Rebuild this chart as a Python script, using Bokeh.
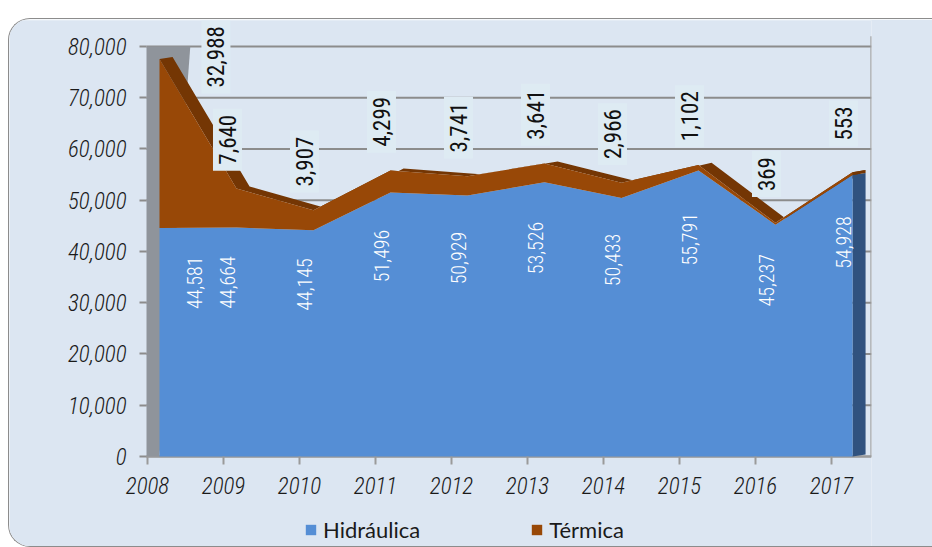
import numpy as np
from bokeh.plotting import figure
from bokeh.models import (Range1d, LinearAxis, FixedTicker, NumeralTickFormatter,
                          Legend, LegendItem)
from bokeh.core.properties import value
from bokeh.embed import file_html
from bokeh.resources import INLINE

# ---------------- data ----------------
years = [2008, 2009, 2010, 2011, 2012, 2013, 2014, 2015, 2016, 2017]
year_labels = ["2008", "2009", "2010", "2011", "2012", "2013", "2014", "2015", "2016", "2017"]
hidraulica = [44581, 44664, 44145, 51496, 50929, 53526, 50433, 55791, 45237, 54928]
termica = [32988, 7640, 3907, 4299, 3741, 3641, 2966, 1102, 369, 553]
y_ticks = [0, 10000, 20000, 30000, 40000, 50000, 60000, 70000, 80000]

# ---------------- styling ----------------
PANEL = "#dce6f2"
BLUE = "#558ed5"
BLUE_SIDE = "#30527f"
BROWN = "#984807"
BROWN_TOP = "#743604"
WALL = "#8f949b"
GRID = "#8c8c8c"
COND = "Roboto Condensed, DejaVu Sans Condensed, Roboto, sans-serif"
COND_LIGHT = "Roboto Condensed Light, Roboto Condensed, DejaVu Sans Condensed, Roboto, sans-serif"

x = np.array(years, dtype=float)
hyd = np.array(hidraulica, dtype=float)
ter = np.array(termica, dtype=float)
tot = hyd + ter

# the frame covers the whole panel; axes are pinned inside it
x_start, x_wall, x_end = x[0] - 1.948, x[0] - 0.169, x[-1] + 0.247
y_start, y_end = -17560, 85070
dx, dy = 0.17, 400                  # 3-D depth of the areas

p = figure(width=924, height=529, output_backend="svg", toolbar_location=None,
           x_range=Range1d(x_start, x_end), y_range=Range1d(y_start, y_end),
           x_axis_type=None, min_border_left=0, min_border_right=62,
           min_border_top=1, min_border_bottom=2)
p.margin = (18, 0, 0, 8)
p.styles = {"border-top-left-radius": "22px", "border-bottom-left-radius": "22px",
            "overflow": "hidden", "border": "1.5px solid #8c8c8c",
            "border-right": "none", "box-sizing": "border-box"}
p.background_fill_color = PANEL
p.border_fill_color = PANEL
p.outline_line_color = None
p.xgrid.grid_line_color = None
p.ygrid.grid_line_color = None

# horizontal gridlines between the left wall and the right wall
p.segment(x0=x_wall, x1=x_end, y0=y_ticks, y1=y_ticks, line_color=GRID, line_width=2)

yax = p.yaxis[0]
yax.fixed_location = x_wall
yax.ticker = FixedTicker(ticks=y_ticks)
yax.formatter = NumeralTickFormatter(format="0,0")
yax.axis_line_color = None
yax.major_tick_line_color = "#8c8c8c"
yax.major_tick_line_width = 2
yax.major_tick_out = 7
yax.major_tick_in = 0
yax.minor_tick_line_color = None
yax.major_label_standoff = 13
yax.major_label_text_font = COND_LIGHT
yax.major_label_text_font_style = "italic"
yax.major_label_text_font_size = "23px"
yax.major_label_text_color = "#1a1a1a"

p.extra_x_ranges = {"yr": Range1d(x[0] - 1.816, x[0] + 9.526)}
xax = LinearAxis(x_range_name="yr", ticker=FixedTicker(ticks=years), fixed_location=0,
                 major_label_overrides={y: l for y, l in zip(years, year_labels)})
xax.axis_line_color = None
xax.major_tick_line_color = "#9a9a9a"
xax.major_tick_line_width = 2
xax.major_tick_out = 8
xax.major_tick_in = 0
xax.minor_tick_line_color = None
xax.major_label_standoff = 12
xax.major_label_text_font = COND_LIGHT
xax.major_label_text_font_style = "italic"
xax.major_label_text_font_size = "23px"
xax.major_label_text_color = "#1a1a1a"
p.add_layout(xax, "below")

# floor line
p.segment(x0=x_wall, x1=x_end, y0=0, y1=0, line_color="#9a9a9a", line_width=2)

# left wall (slightly wider at the top, as seen in perspective)
p.patch([x_wall, x_wall, x[0] + 0.4, x[0]], [0, y_ticks[-1], y_ticks[-1], 0],
        fill_color=WALL, line_color=None)

# top face of the stacked area (depth)
p.patch(np.concatenate([x, (x + dx)[::-1]]), np.concatenate([tot, (tot + dy)[::-1]]),
        fill_color=BROWN_TOP, line_color=None)
# right side faces
p.patch([x[-1], x[-1], x[-1] + dx, x[-1] + dx], [0, hyd[-1], hyd[-1] + dy, dy],
        fill_color=BLUE_SIDE, line_color=None)
p.patch([x[-1], x[-1], x[-1] + dx, x[-1] + dx], [hyd[-1], tot[-1], tot[-1] + dy, hyd[-1] + dy],
        fill_color=BROWN_TOP, line_color=None)

# front faces
r_h = p.varea(x=x, y1=0, y2=hyd, fill_color=BLUE)
r_t = p.varea(x=x, y1=hyd, y2=tot, fill_color=BROWN)

# right wall line
p.segment(x0=x_end - 0.005, y0=0, x1=x_end - 0.005, y1=y_ticks[-1] + 2000,
          line_color="#a0a0a0", line_width=1.5)

# data labels
fmt = lambda v: f"{int(v):,}"
lim = 78000
t_y = np.minimum(tot + 9500, lim)
t_x = np.where(tot + 9500 > lim, x + 0.85, x)
h_x = x.copy()
h_x[0] += 0.57
h_y = hyd * 0.76

p.text(x=t_x, y=t_y, text=[fmt(v) for v in ter], angle=90, angle_units="deg",
       x_offset=-9, text_align="center", text_baseline="middle",
       text_font=value(COND), text_font_size="23px", text_color="#111111",
       background_fill_color="#deebf3", padding=6)
p.text(x=h_x, y=h_y, text=[fmt(v) for v in hyd], angle=90, angle_units="deg",
       x_offset=-9, text_align="center", text_baseline="middle",
       text_font=value(COND_LIGHT), text_font_size="20px", text_color="white")

legend = Legend(items=[LegendItem(label="Hidráulica", renderers=[r_h]),
                       LegendItem(label="Térmica", renderers=[r_t])],
                orientation="horizontal", location=(295, 3),
                background_fill_alpha=0, border_line_alpha=0,
                label_text_font="Lato", label_text_font_size="22px",
                label_text_color="#1a1a1a",
                glyph_width=13, glyph_height=13, label_height=22,
                label_standoff=6, spacing=110, padding=0, margin=0)
p.add_layout(legend, "center")

open("out.html", "w").write(file_html(p, INLINE))
